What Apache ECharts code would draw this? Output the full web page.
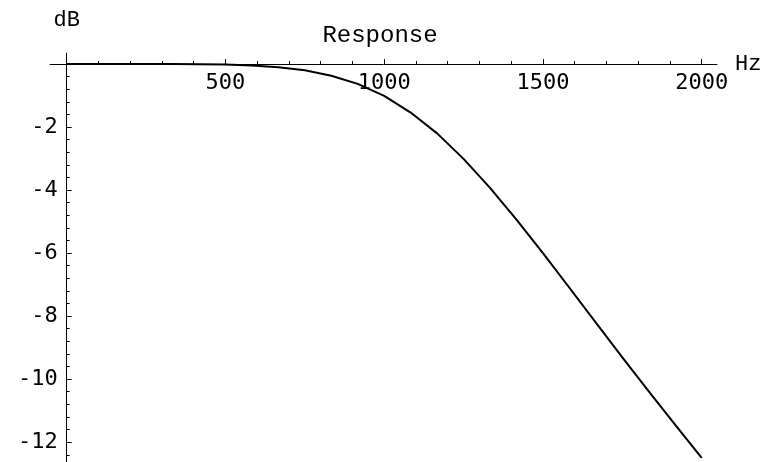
<!DOCTYPE html>
<html>
<head>
<meta charset="utf-8">
<script src="https://cdn.jsdelivr.net/npm/echarts@6/dist/echarts.min.js"></script>
<style>
html,body{margin:0;padding:0;background:#fff;}
#chart{width:765px;height:462px;}
</style>
</head>
<body>
<div id="chart"></div>
<script>
// Frequency samples (Hz)
var freqs = [0, 83.33, 166.67, 250, 333.33, 416.67, 500, 583.33, 666.67, 750, 833.33, 916.67,
             1000, 1083.33, 1166.67, 1250, 1333.33, 1416.67, 1500, 1583.33, 1666.67, 1750, 1833.33, 1916.67, 2000];
// Response (dB)
var response = [0, 0, 0, 0, -0.002, -0.006, -0.018, -0.045, -0.10, -0.20, -0.37, -0.63,
                -1.01, -1.54, -2.20, -3.01, -3.93, -4.94, -6.00, -7.10, -8.21, -9.31, -10.39, -11.45, -12.50];
var xMajorTicks = [500, 1000, 1500, 2000];
var xMinorTicks = [100, 200, 300, 400, 600, 700, 800, 900, 1100, 1200, 1300, 1400, 1600, 1700, 1800, 1900];
var yMajorTicks = [-2, -4, -6, -8, -10, -12];
var yMinorTicks = [-0.4, -0.8, -1.2, -1.6, -2.4, -2.8, -3.2, -3.6, -4.4, -4.8, -5.2, -5.6, -6.4, -6.8, -7.2, -7.6,
                   -8.4, -8.8, -9.2, -9.6, -10.4, -10.8, -11.2, -11.6, -12.4];
var titleText = 'Response';
var xName = 'Hz';
var yName = 'dB';

var INK = '#000';
var labelFont = 'DejaVu Sans Mono';
var nameFont = 'Liberation Mono';

var chart = echarts.init(document.getElementById('chart'), null, {renderer: 'canvas'});
var data = freqs.map(function (f, i) { return [f, response[i]]; });

var xCommon = {
  type: 'value', min: -52.6, max: 2048.2, position: 'top', offset: -11,
  splitLine: {show: false}
};
var yCommon = {
  type: 'value', min: -12.63, max: 0.35, position: 'left', offset: -16.7,
  splitLine: {show: false}
};

chart.setOption({
  animation: false,
  backgroundColor: '#fff',
  title: {
    text: titleText, left: 375, top: 19, textAlign: 'center',
    textStyle: {fontFamily: nameFont, fontSize: 24, fontWeight: 'normal', color: INK}
  },
  grid: {left: 50, right: 48, top: 53, bottom: 0, containLabel: false, outerBoundsMode: 'none'},
  xAxis: [
    Object.assign({}, xCommon, {
      name: xName, nameLocation: 'end', nameGap: 18,
      nameTextStyle: {fontFamily: nameFont, fontSize: 22, color: INK, verticalAlign: 'middle', padding: [4, 0, 0, 0]},
      axisLine: {show: true, onZero: false, lineStyle: {color: INK, width: 1}},
      axisTick: {show: true, inside: false, length: 5, customValues: xMajorTicks, lineStyle: {color: INK}},
      axisLabel: {show: true, inside: true, customValues: xMajorTicks, margin: 8, fontFamily: labelFont, fontSize: 22, color: INK,
        formatter: function (v) { return String(v); }}
    }),
    Object.assign({}, xCommon, {
      axisLine: {show: false, onZero: false},
      axisTick: {show: true, inside: false, length: 3, customValues: xMinorTicks, lineStyle: {color: INK}},
      axisLabel: {show: false}
    })
  ],
  yAxis: [
    Object.assign({}, yCommon, {
      name: yName, nameLocation: 'end', nameGap: 22,
      nameTextStyle: {fontFamily: nameFont, fontSize: 22, color: INK, align: 'center'},
      axisLine: {show: true, onZero: false, lineStyle: {color: INK, width: 1}},
      axisTick: {show: true, inside: true, length: 5, customValues: yMajorTicks, lineStyle: {color: INK}},
      axisLabel: {show: true, customValues: yMajorTicks, margin: 9, fontFamily: labelFont, fontSize: 22, color: INK,
        formatter: function (v) { return String(v); }}
    }),
    Object.assign({}, yCommon, {
      axisLine: {show: false, onZero: false},
      axisTick: {show: true, inside: true, length: 3, customValues: yMinorTicks, lineStyle: {color: INK}},
      axisLabel: {show: false}
    })
  ],
  series: [{
    type: 'line', xAxisIndex: 0, yAxisIndex: 0, data: data,
    showSymbol: false, smooth: false,
    lineStyle: {color: INK, width: 2}
  }]
});
</script>
</body>
</html>
